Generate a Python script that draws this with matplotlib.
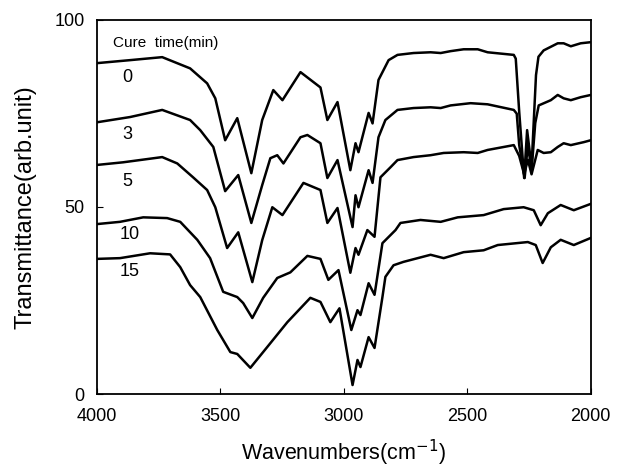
import numpy as np
import matplotlib.pyplot as plt

plt.rcParams['font.family'] = ['Liberation Sans', 'DejaVu Sans']

# IR spectra: (wavenumber, transmittance) per cure time
wn_0 = [4000, 3866, 3736, 3623, 3554, 3521, 3481, 3432, 3375, 3331, 3286, 3249, 3176, 3095,
        3067, 3026, 2974, 2953, 2941, 2900, 2884, 2860, 2819, 2783, 2718, 2649, 2608, 2568,
        2515, 2458, 2418, 2312, 2304, 2290, 2270, 2258, 2240, 2222, 2212, 2191, 2134, 2110,
        2081, 2041, 2000]
tr_0 = [88.4, 89.2, 90.0, 87.0, 83.0, 79.0, 67.8, 73.7, 59.0, 73.2, 81.2, 78.5, 86.0, 81.9,
        73.2, 78.0, 59.8, 67.0, 64.6, 75.1, 72.3, 83.9, 89.2, 90.6, 91.1, 91.3, 91.1, 91.6,
        92.1, 92.1, 91.3, 90.6, 89.6, 75.4, 57.7, 70.5, 60.7, 85.2, 90.1, 91.8, 93.7, 93.7,
        92.9, 93.7, 94.0]

wn_3 = [4000, 3866, 3736, 3623, 3582, 3529, 3481, 3428, 3375, 3331, 3298, 3270, 3245, 3176,
        3148, 3095, 3067, 3026, 2965, 2953, 2941, 2900, 2884, 2860, 2832, 2783, 2718, 2649,
        2608, 2568, 2487, 2418, 2312, 2300, 2290, 2268, 2255, 2240, 2225, 2211, 2162, 2134,
        2110, 2081, 2041, 2000]
tr_3 = [72.6, 74.0, 75.9, 73.2, 70.5, 66.0, 54.2, 58.5, 45.7, 55.8, 63.0, 63.8, 61.6, 68.6,
        69.2, 67.0, 57.7, 62.5, 44.6, 53.1, 49.9, 59.8, 56.4, 68.6, 73.2, 75.9, 76.4, 76.6,
        76.4, 77.1, 77.7, 77.4, 75.9, 74.9, 66.5, 57.7, 66.5, 59.7, 72.4, 77.1, 78.5, 79.9,
        79.0, 78.5, 79.3, 79.9]

wn_5 = [4000, 3895, 3736, 3675, 3611, 3554, 3521, 3473, 3428, 3371, 3331, 3290, 3249, 3164,
        3095, 3067, 3026, 2974, 2953, 2941, 2905, 2876, 2852, 2811, 2783, 2718, 2649, 2596,
        2515, 2458, 2418, 2312, 2290, 2270, 2255, 2240, 2225, 2215, 2191, 2162, 2134, 2110,
        2081, 2028, 2000]
tr_5 = [61.2, 61.9, 63.3, 61.6, 57.9, 54.5, 49.9, 39.0, 43.2, 29.9, 41.1, 49.9, 47.8, 56.4,
        54.5, 45.7, 49.7, 32.4, 39.0, 37.2, 43.8, 42.0, 57.9, 60.6, 62.5, 63.3, 63.8, 64.4,
        64.6, 64.4, 65.2, 66.5, 63.6, 58.7, 62.6, 58.7, 62.6, 65.2, 64.4, 64.6, 66.0, 67.0,
        66.5, 67.3, 67.8]

wn_10 = [4000, 3907, 3813, 3716, 3663, 3594, 3542, 3489, 3432, 3408, 3371, 3327, 3270, 3217,
         3148, 3095, 3063, 3022, 2970, 2945, 2933, 2900, 2876, 2844, 2791, 2771, 2690, 2608,
         2539, 2434, 2353, 2272, 2231, 2203, 2174, 2122, 2069, 2000]
tr_10 = [45.4, 46.0, 47.2, 47.0, 46.0, 41.2, 36.3, 27.3, 25.9, 24.3, 20.3, 25.7, 31.0, 32.5,
         36.9, 36.1, 30.5, 33.1, 17.1, 22.4, 21.1, 29.6, 26.5, 40.3, 43.8, 45.7, 46.5, 46.0,
         47.2, 47.8, 49.4, 49.9, 49.1, 45.1, 48.3, 50.5, 49.1, 50.8]

wn_15 = [4000, 3907, 3785, 3704, 3663, 3623, 3582, 3513, 3460, 3432, 3379, 3310, 3229, 3136,
         3095, 3055, 3018, 2965, 2945, 2933, 2900, 2876, 2844, 2832, 2799, 2759, 2649, 2596,
         2515, 2434, 2377, 2255, 2223, 2195, 2162, 2122, 2069, 2000]
tr_15 = [36.1, 36.3, 37.6, 37.3, 33.9, 29.1, 25.9, 17.1, 11.2, 10.7, 7.0, 12.6, 19.2, 25.7,
         24.6, 19.2, 22.9, 2.4, 9.1, 7.2, 15.2, 12.3, 25.9, 31.3, 34.4, 35.3, 37.2, 36.3,
         37.9, 38.4, 39.8, 40.6, 39.8, 35.0, 39.2, 41.2, 39.8, 41.7]

cure_labels = ['0', '3', '5', '10', '15']
label_x = [3899, 3899, 3899, 3907, 3907]
label_y = [84.5, 69.4, 56.9, 42.5, 32.7]

fig = plt.figure(figsize=(6.18, 4.75), dpi=100)
ax = fig.add_axes([0.157, 0.1705, 0.799, 0.788])

for wn, tr in [(wn_0, tr_0), (wn_3, tr_3), (wn_5, tr_5), (wn_10, tr_10), (wn_15, tr_15)]:
    ax.plot(wn, tr, color='black', lw=1.8, solid_joinstyle='round')

for lab, lx, ly in zip(cure_labels, label_x, label_y):
    ax.text(lx, ly, lab, fontsize=13, va='center', ha='left')
ax.text(3935, 93.9, 'Cure  time(min)', fontsize=11, va='center', ha='left')

ax.set_xlim(4000, 2000)
ax.set_ylim(0, 100)
ax.set_xticks([4000, 3500, 3000, 2500, 2000])
ax.set_yticks([0, 50, 100])
ax.tick_params(direction='in', length=4, labelsize=13)
ax.tick_params(axis='x', pad=10)
ax.tick_params(axis='y', pad=9)
for s in ax.spines.values():
    s.set_linewidth(1.3)

ax.set_xlabel('Wavenumbers(cm$^{-1}$)', fontsize=15.5, labelpad=9)
ax.set_ylabel('Transmittance(arb.unit)', fontsize=17, labelpad=13)

fig.savefig('out.png', dpi=100)
